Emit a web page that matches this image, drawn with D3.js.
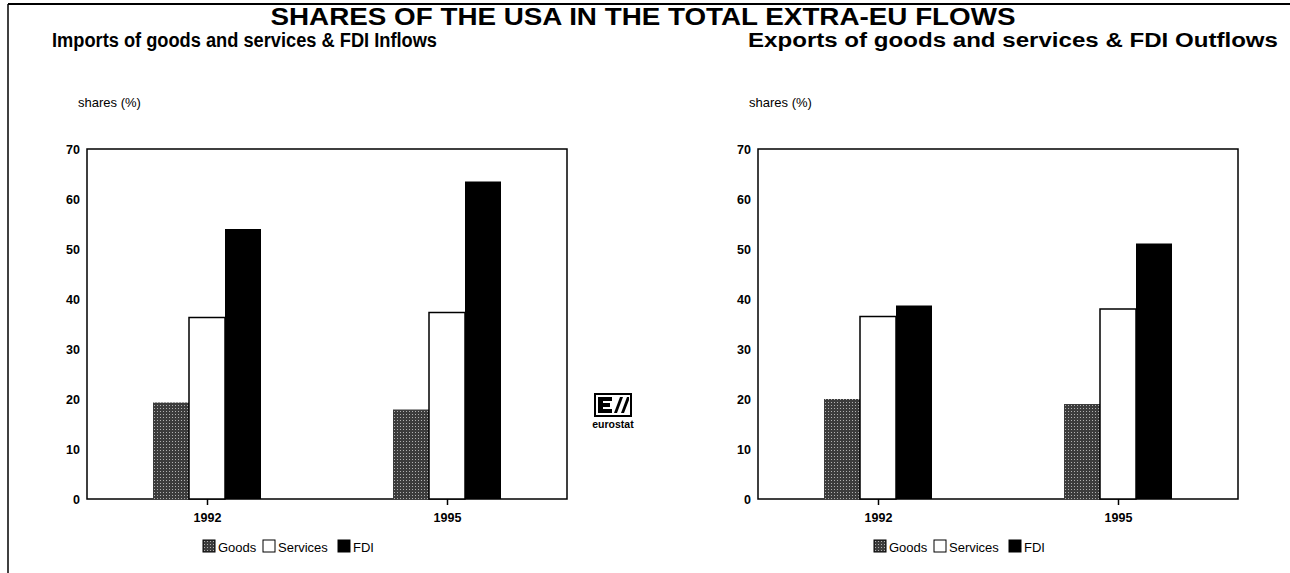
<!DOCTYPE html>
<html>
<head>
<meta charset="utf-8">
<script src="https://cdn.jsdelivr.net/npm/d3@7"></script>
<style>
    body { margin: 0; background: #fff; }
    svg { display: block; font-family: "Liberation Sans", Arial, sans-serif; }
    .axis text { font-size: 12.5px; font-weight: bold; fill: #000; }
    .axis path, .axis line { stroke: #000; stroke-width: 1.5; }
</style>
</head>
<body>
<div id="chart"></div>
<script>

// values (shares in %)
let years = ["1992", "1995"];
let seriesNames = ["Goods", "Services", "FDI"];
let yTicks = [0, 10, 20, 30, 40, 50, 60, 70];

let importsGoods = [19.3, 17.9];
let importsServices = [36.3, 37.3];
let importsFdi = [54.0, 63.5];

let exportsGoods = [20.0, 19.0];
let exportsServices = [36.5, 38.0];
let exportsFdi = [38.7, 51.1];

let mainTitle = "SHARES OF THE USA IN THE TOTAL EXTRA-EU FLOWS";
let leftTitle = "Imports of goods and services & FDI Inflows";
let rightTitle = "Exports of goods and services & FDI Outflows";

let svg = d3.select("#chart").append("svg")
    .attr("width", 1290)
    .attr("height", 573);

// stipple for the goods bars
let pat = svg.append("defs").append("pattern")
    .attr("id", "stipple")
    .attr("width", 3)
    .attr("height", 3)
    .attr("patternUnits", "userSpaceOnUse");
pat.append("rect").attr("width", 3).attr("height", 3).attr("fill", "#3c3c3c");
pat.append("rect").attr("x", 1).attr("y", 1).attr("width", 1).attr("height", 1).attr("fill", "#b0b0b0");

// page frame
svg.append("line").attr("x1", 8).attr("x2", 1290).attr("y1", 4).attr("y2", 4)
    .attr("stroke", "#000").attr("stroke-width", 2);
svg.append("line").attr("x1", 8).attr("x2", 8).attr("y1", 4).attr("y2", 573)
    .attr("stroke", "#000").attr("stroke-width", 1.5);

svg.append("text")
    .attr("x", 643)
    .attr("y", 25)
    .attr("text-anchor", "middle")
    .attr("textLength", 745)
    .attr("lengthAdjust", "spacingAndGlyphs")
    .style("font-size", "23px")
    .style("font-weight", "bold")
    .text(mainTitle);


class BarVis {

    constructor(svg, left, title, titleX, titleLength, data) {
        this.svg = svg;
        this.left = left;
        this.title = title;
        this.titleX = titleX;
        this.titleLength = titleLength;
        this.data = data;

        this.initVis();
    }

    initVis() {
        let vis = this;

        vis.margin = {top: 149, left: vis.left};
        vis.width = 480;
        vis.height = 350;

        vis.g = vis.svg.append("g")
            .attr("transform", `translate(${vis.margin.left}, ${vis.margin.top})`);

        vis.svg.append("text")
            .attr("x", vis.titleX)
            .attr("y", 47)
            .attr("textLength", vis.titleLength)
            .attr("lengthAdjust", "spacingAndGlyphs")
            .style("font-size", "20px")
            .style("font-weight", "bold")
            .text(vis.title);

        vis.g.append("text")
            .attr("x", -9)
            .attr("y", -42)
            .style("font-size", "13px")
            .text("shares (%)");

        vis.x = d3.scalePoint()
            .domain(years)
            .range([0, vis.width])
            .padding(0.5);

        vis.xSub = d3.scaleBand()
            .domain(seriesNames)
            .range([-54, 54]);

        vis.y = d3.scaleLinear()
            .domain([0, 70])
            .range([vis.height, 0]);

        vis.colorScale = d3.scaleOrdinal()
            .domain(seriesNames)
            .range(["url(#stipple)", "#fff", "#000"]);

        vis.g.append("rect")
            .attr("class", "frame")
            .attr("width", vis.width)
            .attr("height", vis.height)
            .attr("fill", "none")
            .attr("stroke", "#000")
            .attr("stroke-width", 1.5);

        vis.wrangleData();
    }

    wrangleData() {
        let vis = this;

        vis.displayData = [];
        years.forEach((yr, i) => {
            seriesNames.forEach(s => {
                vis.displayData.push({year: yr, key: s, value: vis.data[s][i]});
            });
        });

        vis.updateVis();
    }

    updateVis() {
        let vis = this;

        vis.g.selectAll(".bar")
            .data(vis.displayData)
            .enter().append("rect")
            .attr("class", "bar")
            .attr("x", d => vis.x(d.year) + vis.xSub(d.key))
            .attr("y", d => vis.y(d.value))
            .attr("width", vis.xSub.bandwidth())
            .attr("height", d => vis.height - vis.y(d.value))
            .attr("fill", d => vis.colorScale(d.key))
            .attr("stroke", d => d.key === "Services" ? "#000" : "none")
            .attr("stroke-width", 1.5);

        // axes
        let yAxis = d3.axisLeft(vis.y).tickValues(yTicks).tickSize(0).tickPadding(7);
        vis.g.append("g").attr("class", "axis y-axis").call(yAxis)
            .call(g => g.select(".domain").remove());

        let xAxis = d3.axisBottom(vis.x).tickSize(6).tickPadding(8);
        vis.g.append("g").attr("class", "axis x-axis")
            .attr("transform", `translate(0, ${vis.height})`)
            .call(xAxis)
            .call(g => g.select(".domain").remove());

        // legend
        vis.legend = vis.g.append("g")
            .attr("class", "legend")
            .attr("transform", `translate(116, ${vis.height + 41})`);

        let offsets = [0, 60, 135];
        seriesNames.forEach((s, i) => {
            vis.legend.append("rect")
                .attr("x", offsets[i])
                .attr("y", 0)
                .attr("width", 12)
                .attr("height", 12)
                .attr("fill", vis.colorScale(s))
                .attr("stroke", "#000")
                .attr("stroke-width", 1);
            vis.legend.append("text")
                .attr("x", offsets[i] + 15)
                .attr("y", 11.5)
                .style("font-size", "13px")
                .text(s);
        });
    }
}

new BarVis(svg, 87, leftTitle, 52, 385, {
    Goods: importsGoods, Services: importsServices, FDI: importsFdi
});
new BarVis(svg, 758, rightTitle, 748, 530, {
    Goods: exportsGoods, Services: exportsServices, FDI: exportsFdi
});

// eurostat mark
let logo = svg.append("g").attr("transform", "translate(595, 394)");
logo.append("rect").attr("width", 36).attr("height", 22)
    .attr("fill", "none").attr("stroke", "#000").attr("stroke-width", 2);
logo.append("path").attr("d", "M3,3 H17 V7 H8 V9 H15 V13 H8 V15 H17 V19 H3 Z").attr("fill", "#000");
logo.append("path").attr("d", "M19,19 L25,3 H28 L22,19 Z M26,19 L32,3 H34 V6 L29,19 Z").attr("fill", "#000");
logo.append("text").attr("x", 18).attr("y", 34)
    .attr("text-anchor", "middle")
    .style("font-size", "10.5px")
    .style("font-weight", "bold")
    .text("eurostat");

</script>
</body>
</html>
